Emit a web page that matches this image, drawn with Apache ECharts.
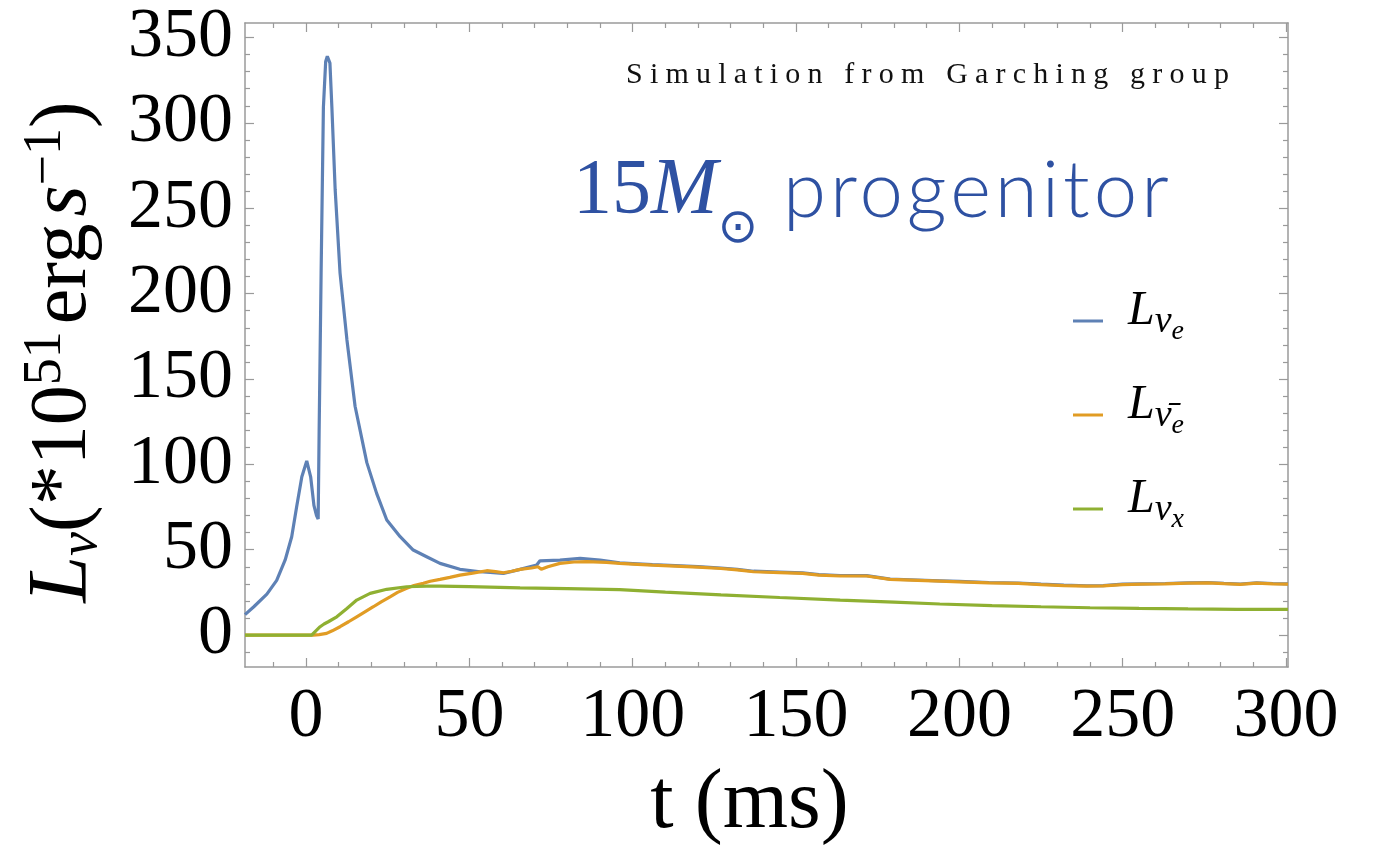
<!DOCTYPE html>
<html><head><meta charset="utf-8">
<script src="https://cdn.jsdelivr.net/npm/echarts@6/dist/echarts.min.js"></script>
<style>html,body{margin:0;padding:0;background:#fff}#c{width:1375px;height:863px}</style>
</head><body><div id="c"></div>
<script>
// ---- data ----
const xMajorTicks = [0, 50, 100, 150, 200, 250, 300];
const xMinorTicks = [-10, 10, 20, 30, 40, 60, 70, 80, 90, 110, 120, 130, 140, 160, 170, 180, 190, 210, 220, 230, 240, 260, 270, 280, 290];
const yMajorTicks = [0, 50, 100, 150, 200, 250, 300, 350];
const yMinorTicks = [-10, 10, 20, 30, 40, 60, 70, 80, 90, 110, 120, 130, 140, 160, 170, 180, 190, 210, 220, 230, 240, 260, 270, 280, 290, 310, 320, 330, 340];

const nueCurve = [
  [-18.7, 12], [-16, 16.6], [-12, 24], [-9, 32], [-6.4, 44], [-4.4, 57.6], [-2.9, 75], [-1.3, 92.7],
  [0.2, 102], [1.4, 92.7], [2.4, 76], [3.2, 70], [3.7, 68], [4.0, 120], [4.6, 212], [5.3, 309],
  [6.0, 336], [6.5, 339], [7.3, 335], [7.9, 309], [8.9, 261], [10.4, 212], [12.5, 173], [15, 134],
  [18.6, 101], [21.6, 83], [24.7, 67.4], [28.8, 57.6], [32.8, 49.8], [36.9, 45.9], [41, 42],
  [47.1, 38.5], [53.3, 37.1], [60.4, 36.1], [65.5, 38.5], [70.6, 41], [71.6, 43.5], [77.7, 43.9],
  [83.9, 44.9], [90, 43.9], [96, 42.3], [100, 41.9], [106, 41.3], [113, 40.7], [120, 40.1],
  [127, 39.3], [132, 38.5], [137, 37.4], [145, 36.9], [152, 36.4], [157, 35.4], [163.5, 34.9],
  [171.6, 34.8], [178.8, 32.8], [185, 32.4], [194, 31.8], [200, 31.4], [209, 30.8], [218, 30.5],
  [225, 29.8], [232, 29.2], [239, 28.9], [244, 29], [250, 29.8], [256, 30], [263, 30.2], [270, 30.6],
  [276, 30.8], [281, 30.3], [286, 29.9], [291, 30.6], [296, 30.2], [300.6, 30]
];
const anueCurve = [
  [-18.7, 0], [2.2, 0], [4, 0.3], [6.3, 1], [8, 2.5], [10.4, 4.9], [13, 7.8], [15.5, 10.7], [18, 13.6],
  [20.6, 16.6], [23, 19.5], [25.7, 22.4], [28, 25], [30.8, 27.4], [33, 29], [35.9, 30.3], [38, 31.5],
  [41, 32.6], [44, 33.8], [47.1, 35.1], [51, 36.3], [55.3, 37.7], [58, 37.2], [60.4, 36.5], [63, 37.4],
  [65.5, 38.5], [69, 39.3], [71, 40], [72, 38.5], [74, 40], [77.7, 42], [82, 42.8], [85.9, 43],
  [92, 42.6], [96, 42], [100, 41.6], [106, 41], [113, 40.4], [120, 39.8], [127, 39], [132, 38.2],
  [137, 37.1], [145, 36.6], [152, 36.1], [157, 35.1], [163.5, 34.6], [171.6, 34.6], [178.8, 32.6],
  [185, 32.2], [194, 31.6], [200, 31.2], [209, 30.6], [218, 30.3], [225, 29.6], [232, 29], [239, 28.7],
  [244, 28.8], [250, 29.6], [256, 29.8], [263, 30], [270, 30.4], [276, 30.6], [281, 30.1], [286, 29.7],
  [291, 30.4], [296, 30], [300.6, 29.8]
];
const nuxCurve = [
  [-18.7, 0], [1.7, 0], [3, 2.5], [4.3, 4.9], [5.5, 6.5], [6.8, 7.8], [9.4, 10.7], [12.5, 15.6], [15.5, 20.5],
  [19.6, 24.4], [24.7, 26.8], [30.8, 28.3], [36.9, 28.7], [41, 28.7], [50, 28.4], [65.5, 27.6],
  [80, 27.2], [96, 26.6], [110, 25.2], [127, 23.6], [145, 22], [163.5, 20.5], [180, 19.3], [194, 18.2],
  [210, 17.3], [225, 16.6], [240, 16], [255, 15.6], [270, 15.3], [285, 15.1], [300.6, 15]
];
const seriesNames = ['L\u03bde', 'L\u03bd\u0304e', 'L\u03bdx'];
const seriesColors = ['#5e81b5', '#e19c24', '#8fb032'];

const simText = 'Simulation from Garching group';
const progText = ' progenitor';

// letter spacing for two header strings (canvas feature not exposed by zrender)
(function () {
  const spacing = {};
  spacing[simText] = '7.2px';
  spacing[progText] = '4px';
  const orig = CanvasRenderingContext2D.prototype.fillText;
  CanvasRenderingContext2D.prototype.fillText = function (t, x, y, w) {
    if (spacing[t]) {
      this.letterSpacing = spacing[t];
      const r = w === undefined ? orig.call(this, t, x, y) : orig.call(this, t, x, y, w);
      this.letterSpacing = '0px';
      return r;
    }
    return orig.apply(this, arguments);
  };
})();

const SERIF = 'Liberation Serif';
const frameColor = '#9a9a9a';
const X_MIN = -18.7, X_MAX = 300.6, Y_MIN = -18.7, Y_MAX = 358.5;

function xAx(pos, ticks, len, showLine, showLabels) {
  return {
    type: 'value', position: pos, min: X_MIN, max: X_MAX,
    axisLine: { show: showLine, onZero: false, lineStyle: { color: frameColor, width: 1.5 } },
    axisTick: { show: true, inside: true, length: len, customValues: ticks, lineStyle: { color: frameColor, width: 1.2 } },
    axisLabel: showLabels ? { show: true, customValues: ticks, margin: 16, fontFamily: SERIF, fontSize: 70, color: '#000' } : { show: false },
    splitLine: { show: false }
  };
}
function yAx(pos, ticks, len, showLine, showLabels) {
  return {
    type: 'value', position: pos, min: Y_MIN, max: Y_MAX,
    axisLine: { show: showLine, onZero: false, lineStyle: { color: frameColor, width: 1.5 } },
    axisTick: { show: true, inside: true, length: len, customValues: ticks, lineStyle: { color: frameColor, width: 1.2 } },
    axisLabel: showLabels ? { show: true, customValues: ticks, margin: 12, fontFamily: SERIF, fontSize: 70, color: '#000' } : { show: false },
    splitLine: { show: false }
  };
}

const xAxes = [
  xAx('bottom', xMajorTicks, 9, true, true),
  xAx('bottom', xMinorTicks, 5, false, false),
  xAx('top', xMajorTicks, 9, true, false),
  xAx('top', xMinorTicks, 5, false, false)
];
xAxes[0].name = 't (ms)';
xAxes[0].nameLocation = 'middle';
xAxes[0].nameGap = 96;
xAxes[0].nameTextStyle = { fontFamily: SERIF, fontSize: 84, color: '#000', padding: [0, 34, 0, 0] };

const yAxes = [
  yAx('left', yMajorTicks, 9, true, true),
  yAx('left', yMinorTicks, 5, false, false),
  yAx('right', yMajorTicks, 9, true, false),
  yAx('right', yMinorTicks, 5, false, false)
];
yAxes[0].name = '{L|L}{nu|\u03bd}{n|(*10}{sup|51}{sp| }{n|erg}{sp| }{it|s}{sup|\u22121}{n|)}';
yAxes[0].nameLocation = 'middle';
yAxes[0].nameGap = 136;
yAxes[0].nameRotate = 90;
yAxes[0].nameTextStyle = {
  fontFamily: SERIF, fontSize: 80, color: '#000', padding: [0, 14, 0, 0],
  rich: {
    L: { fontFamily: SERIF, fontSize: 84, fontStyle: 'italic', lineHeight: 90, color: '#000' },
    nu: { fontFamily: SERIF, fontSize: 54, fontStyle: 'italic', lineHeight: 46, verticalAlign: 'bottom', color: '#000' },
    n: { fontFamily: SERIF, fontSize: 80, lineHeight: 90, color: '#000' },
    sp: { fontFamily: SERIF, fontSize: 28, lineHeight: 90, color: '#000' },
    it: { fontFamily: SERIF, fontSize: 80, fontStyle: 'italic', lineHeight: 90, color: '#000' },
    sup: { fontFamily: SERIF, fontSize: 54, lineHeight: 30, verticalAlign: 'top', color: '#000' }
  }
};

const legendRich = {
  L: { fontFamily: SERIF, fontSize: 48, fontStyle: 'italic', lineHeight: 40, color: '#000', padding: [0, 0, 20, 20] },
  s1: { fontFamily: SERIF, fontSize: 38, fontStyle: 'italic', lineHeight: 40, color: '#000', padding: [2, 0, 0, 0] },
  s2: { fontFamily: SERIF, fontSize: 28, fontStyle: 'italic', lineHeight: 30, color: '#000', padding: [22, 0, 0, 0] }
};
const legendLabels = {};
legendLabels[seriesNames[0]] = '{L|L}{s1|\u03bd}{s2|e}';
legendLabels[seriesNames[1]] = '{L|L}{s1|\u03bd\u0304}{s2|e}';
legendLabels[seriesNames[2]] = '{L|L}{s1|\u03bd}{s2|x}';
const legendRowY = [317, 411, 505];
const legends = seriesNames.map((nm, i) => ({
  data: [nm], orient: 'vertical', left: 1073, top: legendRowY[i] - 30,
  icon: 'rect', itemWidth: 30, itemHeight: 3, padding: 0,
  formatter: (n) => legendLabels[n],
  textStyle: { rich: legendRich }
}));

const curves = [nueCurve, anueCurve, nuxCurve];
const series = curves.map((c, i) => ({
  name: seriesNames[i], type: 'line', data: c, xAxisIndex: 0, yAxisIndex: 0,
  showSymbol: false, symbol: 'none', smooth: false, clip: true,
  lineStyle: { color: seriesColors[i], width: 3.2 }, itemStyle: { color: seriesColors[i] },
  z: 2 + i
}));

const blue = '#2e51a2';
const option = {
  animation: false,
  backgroundColor: '#fff',
  grid: { left: 245, right: 87, top: 23, bottom: 196, containLabel: false },
  title: [
    { text: simText, left: 621, top: 55, textStyle: { fontFamily: SERIF, fontSize: 30, fontWeight: 'normal', color: '#111' } },
    {
      text: '{a|15}{b|M}{c|\u2299}{d|' + progText + '}', left: 568, top: 147,
      textStyle: {
        fontWeight: 'normal',
        rich: {
          a: { fontFamily: SERIF, fontSize: 78, fontWeight: 'normal', color: blue, lineHeight: 80 },
          b: { fontFamily: SERIF, fontSize: 80, fontStyle: 'italic', fontWeight: 'normal', color: blue, lineHeight: 80 },
          c: { fontFamily: 'DejaVu Sans', fontSize: 48, fontWeight: 'normal', color: blue, lineHeight: 10, padding: [76, 0, 0, 0] },
          d: { fontFamily: 'Lato', fontWeight: 300, fontSize: 78, color: blue, lineHeight: 80 }
        }
      }
    }
  ],
  legend: legends,
  xAxis: xAxes,
  yAxis: yAxes,
  series: series
};

const chart = echarts.init(document.getElementById('c'), null, { renderer: 'canvas' });
chart.setOption(option);
</script>
</body></html>
